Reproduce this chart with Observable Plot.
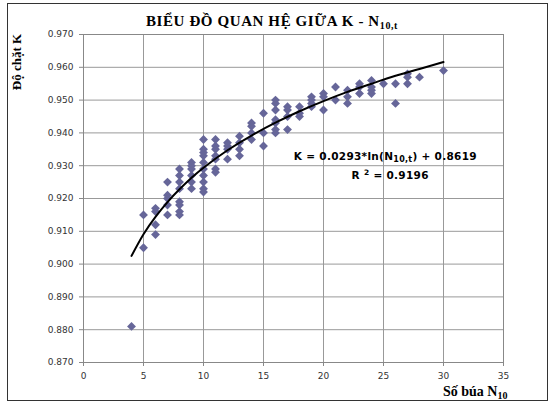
<!DOCTYPE html>
<html><head><meta charset="utf-8">
<script src="https://cdn.jsdelivr.net/npm/d3@7"></script>
<script src="https://cdn.jsdelivr.net/npm/@observablehq/plot@0.6"></script>
<style>body{margin:0;background:#fff}</style>
</head><body><div id="chart"></div>
<script>
// Scatter data: number of blows N10 vs compaction K
const blowCounts = [
  4,
  5,5,
  6,6,6,6,
  7,7,7,7,7,
  8,8,8,8,8,8,8,8,
  9,9,9,9,9,9,
  10,10,10,10,10,10,10,10,10,10,
  11,11,11,11,11,11,11,
  12,12,12,12,
  13,13,13,13,
  14,14,14,14,
  15,15,15,
  16,16,16,16,16,16,16,
  17,17,17,17,
  18,18,18,
  19,19,19,19,
  20,20,20,
  21,21,
  22,22,22,
  23,23,23,
  24,24,24,24,
  25,
  26,26,
  27,27,27,
  28,
  30
];
const compaction = [
  0.881,
  0.915,0.905,
  0.917,0.916,0.912,0.909,
  0.925,0.921,0.920,0.918,0.915,
  0.929,0.927,0.925,0.923,0.919,0.918,0.916,0.915,
  0.931,0.930,0.929,0.927,0.925,0.923,
  0.938,0.935,0.934,0.933,0.931,0.929,0.927,0.925,0.923,0.922,
  0.938,0.936,0.935,0.933,0.932,0.929,0.928,
  0.937,0.936,0.935,0.932,
  0.939,0.937,0.935,0.933,
  0.943,0.942,0.940,0.938,
  0.946,0.940,0.936,
  0.950,0.949,0.947,0.944,0.943,0.941,0.940,
  0.948,0.947,0.945,0.941,
  0.948,0.946,0.945,
  0.951,0.950,0.949,0.948,
  0.952,0.951,0.947,
  0.954,0.950,
  0.953,0.951,0.949,
  0.955,0.954,0.952,
  0.956,0.954,0.953,0.952,
  0.955,
  0.955,0.949,
  0.958,0.957,0.955,
  0.957,
  0.959
];
// Trend line
const trendN = [4,5,6,7,8,9,10,12,14,16,18,20,22,24,26,28,30];
const trendK = [0.9025,0.9091,0.9144,0.9189,0.9228,0.9263,0.9294,0.9347,0.9392,0.9431,0.9466,0.9497,0.9525,0.9550,0.9574,0.9595,0.9616];
const xTicks = [0,5,10,15,20,25,30,35];
const yTicks = [0.870,0.880,0.890,0.900,0.910,0.920,0.930,0.940,0.950,0.960,0.970];

const points = blowCounts.map((n,i)=>({n, k: compaction[i]}));
const trend = trendN.map((n,i)=>({n, k: trendK[i]}));

const W = 552, H = 408;
const chart = Plot.plot({
  width: W, height: H,
  marginLeft: 83, marginRight: 49, marginTop: 34, marginBottom: 46,
  style: {fontFamily: "DejaVu Sans, Verdana, sans-serif", fontSize: "9px", background: "#fff", color: "#222"},
  x: {domain: [0,35]},
  y: {domain: [0.870,0.970]},
  marks: [
    Plot.gridX(xTicks, {stroke: "#999", strokeOpacity: 1}),
    Plot.gridY(yTicks, {stroke: "#999", strokeOpacity: 1}),
    Plot.frame({stroke: "#888"}),
    Plot.axisX({ticks: xTicks, tickSize: 4, tickPadding: 6, label: null, stroke: "#888", fill: "#333"}),
    Plot.axisY({ticks: yTicks, tickSize: 4, tickPadding: 6, tickFormat: d3.format(".3f"), label: null, stroke: "#888", fill: "#333"}),
    Plot.dot(points, {x: "n", y: "k", symbol: "diamond2", r: 4, fill: "#666699", stroke: "none"}),
    Plot.line(trend, {x: "n", y: "k", stroke: "#000", strokeWidth: 2, curve: "natural"})
  ]
});
document.getElementById("chart").appendChild(chart);

const svg = d3.select(chart);
const sx = chart.scale("x"), sy = chart.scale("y");
// outer chart border
svg.append("rect").attr("x",7.5).attr("y",3.5).attr("width",540).attr("height",397)
  .attr("fill","none").attr("stroke","#333").attr("stroke-width",1);

const serif = "Liberation Serif, Times New Roman, serif";
// title
const t = svg.append("text").attr("x",272).attr("y",26).attr("text-anchor","middle")
  .attr("font-family",serif).attr("font-weight","bold").attr("font-size","15px").attr("fill","#000")
  .attr("letter-spacing","0.6px");
t.append("tspan").text("BIỂU ĐỒ QUAN HỆ GIỮA K - N");
t.append("tspan").attr("font-size","10px").attr("dy","3").text("10,t");

// y axis title
svg.append("text").attr("transform","translate(21,62) rotate(-90)").attr("text-anchor","middle")
  .attr("font-family",serif).attr("font-weight","bold").attr("font-size","13px").attr("fill","#000")
  .text("Độ chặt K");

// x axis title
const xt = svg.append("text").attr("x",443).attr("y",396).attr("text-anchor","start")
  .attr("font-family",serif).attr("font-weight","bold").attr("font-size","14px").attr("fill","#000");
xt.append("tspan").text("Số búa N");
xt.append("tspan").attr("font-size","10px").attr("dy","3").text("10");

// equation labels
const sans = "DejaVu Sans, Verdana, sans-serif";
const eq = svg.append("text").attr("x", sx.apply(25.2)).attr("y", sy.apply(0.9315)).attr("text-anchor","middle")
  .attr("font-family",sans).attr("font-weight","bold").attr("font-size","10.5px").attr("fill","#000")
  .attr("letter-spacing","0.3px");
eq.append("tspan").text("K = 0.0293*ln(N");
eq.append("tspan").attr("font-size","8px").attr("dy","2").text("10,t");
eq.append("tspan").attr("dy","-2").text(") + 0.8619");

const r2 = svg.append("text").attr("x", sx.apply(25.6)).attr("y", sy.apply(0.9258)).attr("text-anchor","middle")
  .attr("font-family",sans).attr("font-weight","bold").attr("font-size","10.5px").attr("fill","#000")
  .attr("letter-spacing","0.3px");
r2.append("tspan").text("R ");
r2.append("tspan").attr("font-size","7.5px").attr("dy","-4").text("2");
r2.append("tspan").attr("dy","4").text(" = 0.9196");
</script>
</body></html>
